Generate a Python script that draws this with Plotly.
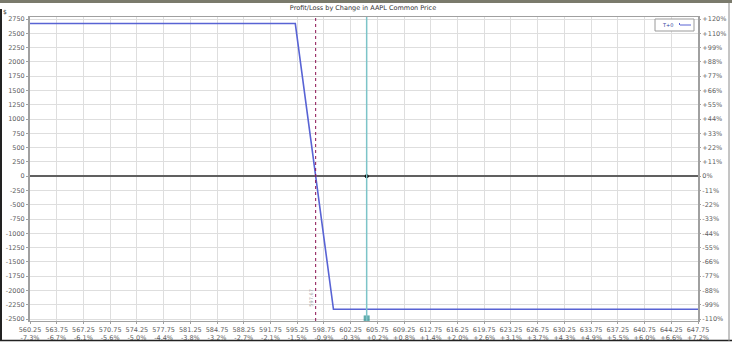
import plotly.graph_objects as go

# ---- data ----
prices = [560.25, 595.0, 600.0, 647.75]
pnl = [2670, 2670, -2330, -2330]
x_ticks = [560.25 + 3.5 * i for i in range(26)]
x_pct = ["-7.3%", "-6.7%", "-6.1%", "-5.6%", "-5.0%", "-4.4%", "-3.8%", "-3.2%", "-2.7%",
         "-2.1%", "-1.5%", "-0.9%", "-0.3%", "+0.2%", "+0.8%", "+1.4%", "+2.0%", "+2.6%",
         "+3.1%", "+3.7%", "+4.3%", "+4.9%", "+5.5%", "+6.0%", "+6.6%", "+7.2%"]
y_ticks = [2750, 2500, 2250, 2000, 1750, 1500, 1250, 1000, 750, 500, 250, 0,
           -250, -500, -750, -1000, -1250, -1500, -1750, -2000, -2250, -2500]
y_pct = ["+120%", "+110%", "+99%", "+88%", "+77%", "+66%", "+55%", "+44%", "+33%", "+22%", "+11%", "0%",
         "-11%", "-22%", "-33%", "-44%", "-55%", "-66%", "-77%", "-88%", "-99%", "-110%"]
breakeven = 597.67
current_price = 604.35

W, H = 732, 345
L, R, T, B = 30, 34, 17, 24
PW, PH = W - L - R, H - T - B

def px(x):
    return (x - L) / PW

def py(y):
    return (H - B - y) / PH

FONT = "DejaVu Sans"
TXT = "#606060"

fig = go.Figure()
fig.add_trace(go.Scatter(x=prices, y=pnl, mode="lines",
                         line=dict(color="#5863d4", width=1.6), showlegend=False, hoverinfo="skip"))
# dummy trace for right axis
fig.add_trace(go.Scatter(x=[prices[0]], y=[pnl[0]], yaxis="y2", mode="lines",
                         line=dict(width=0), showlegend=False, hoverinfo="skip"))
# current price markers
fig.add_trace(go.Scatter(x=[current_price], y=[0], mode="markers",
                         marker=dict(color="black", size=4, line=dict(width=0)),
                         showlegend=False, hoverinfo="skip"))
fig.add_trace(go.Scatter(x=[current_price, current_price], y=[-2490, -2575], mode="markers",
                         marker=dict(color=["#1f8a8a", "#111111"], size=[6, 3], symbol="square",
                                     line=dict(width=0)),
                         cliponaxis=False, showlegend=False, hoverinfo="skip"))

yr = [-2535, 2785]
fig.update_layout(
    width=W, height=H, margin=dict(l=L, r=R, t=T, b=B, autoexpand=False),
    paper_bgcolor="white", plot_bgcolor="white",
    font=dict(family=FONT, size=6.5, color=TXT),
    title=dict(text="Profit/Loss by Change in AAPL Common Price", x=px(363), xanchor="center",
               xref="paper", y=1 - 8 / H, yanchor="middle", font=dict(size=6.5, color="#333333")),
    xaxis=dict(range=[560.25, 647.75], tickvals=x_ticks, automargin=False,
               ticktext=[f"{v:.2f}<br>{p}" for v, p in zip(x_ticks, x_pct)],
               showgrid=True, gridcolor="#dedede", gridwidth=1, zeroline=False,
               showline=True, linecolor="#a0a0a0", linewidth=1, mirror=True,
               ticks="outside", ticklen=2, tickcolor="#a0a0a0", tickfont=dict(size=6.5)),
    yaxis=dict(range=yr, tickvals=y_ticks, ticktext=[str(v) for v in y_ticks], automargin=False,
               showgrid=True, gridcolor="#dedede", gridwidth=1,
               zeroline=True, zerolinecolor="#606060", zerolinewidth=2,
               showline=True, linecolor="#a0a0a0", linewidth=2, mirror=True,
               ticks="outside", ticklen=2, tickcolor="#a0a0a0", tickfont=dict(size=6.5)),
    yaxis2=dict(range=yr, overlaying="y", side="right", tickvals=y_ticks, ticktext=y_pct,
                automargin=False, showgrid=False, zeroline=False, ticks="outside", ticklen=2,
                tickcolor="#a0a0a0", tickfont=dict(size=6.5)),
)

shapes = [
    # breakeven dotted line
    dict(type="line", xref="x", yref="paper", x0=breakeven, x1=breakeven, y0=0, y1=1,
         line=dict(color="#8a1050", width=1, dash="dot")),
    # current price line
    dict(type="line", xref="x", yref="paper", x0=current_price, x1=current_price, y0=0, y1=1,
         line=dict(color="#7cc4c8", width=1.5)),
    # legend box
    dict(type="rect", xref="paper", yref="paper", x0=px(655), x1=px(694), y0=py(31), y1=py(19),
         line=dict(color="#9a9a9a", width=1), fillcolor="white"),
    dict(type="line", xref="paper", yref="paper", x0=px(680), x1=px(691), y0=py(25), y1=py(25),
         line=dict(color="#5863d4", width=1)),
    dict(type="line", xref="paper", yref="paper", x0=px(679.5), x1=px(679.5), y0=py(25), y1=py(23),
         line=dict(color="#5863d4", width=1)),
    # outer frame
    dict(type="rect", xref="paper", yref="paper", x0=px(0), x1=px(W), y0=py(0), y1=py(3),
         line=dict(width=0), fillcolor="#7a7a6c"),
    dict(type="line", xref="paper", yref="paper", x0=px(1), x1=px(1), y0=py(9), y1=py(341),
         line=dict(color="#222222", width=2)),
    dict(type="line", xref="paper", yref="paper", x0=px(0), x1=px(W), y0=py(340.5), y1=py(340.5),
         line=dict(color="#222222", width=1.5)),
    dict(type="line", xref="paper", yref="paper", x0=px(729), x1=px(729), y0=py(3), y1=py(341),
         line=dict(color="#8a8a8a", width=1)),
]
fig.update_layout(shapes=shapes)

fig.add_annotation(xref="paper", yref="paper", x=px(660), y=py(25), text="T+0", showarrow=False,
                   xanchor="left", yanchor="middle", font=dict(size=5, color="#3040a0"))
fig.add_annotation(xref="paper", yref="paper", x=px(5), y=py(12), text="$", showarrow=False,
                   xanchor="center", yanchor="middle", font=dict(size=6, color="#333333"))
fig.add_annotation(xref="x", yref="paper", x=breakeven, xshift=-5, y=py(298), text=f"{breakeven:.2f}",
                   textangle=-90, showarrow=False, xanchor="center", yanchor="middle",
                   font=dict(size=5, color="#a0a0a0"))

fig.write_html("out.html")
